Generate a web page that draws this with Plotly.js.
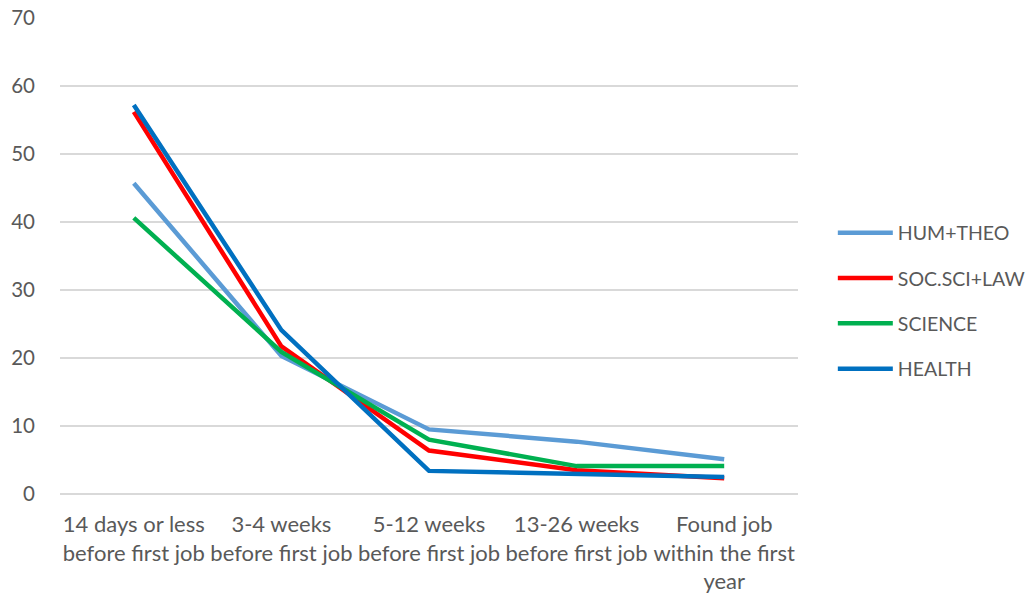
<!DOCTYPE html>
<html>
<head>
<meta charset="utf-8">
<script src="https://cdn.plot.ly/plotly-3.0.1.min.js"></script>
<style>html,body{margin:0;padding:0;background:#fff;}#chart{width:1032px;height:596px;}</style>
</head>
<body>
<div id="chart"></div>
<script>
const categories = [
  "14 days or less<br>before first job",
  "3-4 weeks<br>before first job",
  "5-12 weeks<br>before first job",
  "13-26 weeks<br>before first job",
  "Found job<br>within the first<br>year"
];
const seriesNames = ["HUM+THEO", "SOC.SCI+LAW", "SCIENCE", "HEALTH"];
const humTheo = [45.7, 20.3, 9.5, 7.7, 5.1];
const socSciLaw = [56.2, 21.7, 6.4, 3.5, 2.3];
const science = [40.6, 20.9, 8.0, 4.1, 4.1];
const health = [57.2, 24.1, 3.4, 3.0, 2.5];
const colors = ["#5B9BD5", "#FF0000", "#00B050", "#0070C0"];
const yTicks = [0, 10, 20, 30, 40, 50, 60, 70];

const allValues = [humTheo, socSciLaw, science, health];
const traces = allValues.map((vals, i) => ({
  type: "scatter",
  mode: "lines",
  x: categories,
  y: vals,
  name: seriesNames[i],
  legendgroup: "g" + i,
  line: {color: colors[i], width: 4.5}
}));

const fam = "Lato, 'Open Sans', sans-serif";
const layout = {
  width: 1032,
  height: 596,
  margin: {l: 60, r: 234, t: 18, b: 102},
  paper_bgcolor: "#fff",
  plot_bgcolor: "#fff",
  font: {family: fam, size: 18, color: "#595959"},
  showlegend: true,
  legend: {
    xref: "container",
    x: 0.807, xanchor: "left",
    yref: "container",
    y: 0.495, yanchor: "middle",
    traceorder: "grouped",
    tracegroupgap: 17,
    itemwidth: 55,
    font: {family: fam, size: 19.5, color: "#595959"},
    bgcolor: "rgba(0,0,0,0)"
  },
  xaxis: {
    type: "category",
    range: [-0.5, 4.5],
    showgrid: false,
    showline: false,
    zeroline: false,
    ticks: "",
    ticklabelstandoff: 15,
    tickfont: {family: fam, size: 22, color: "#595959"},
    fixedrange: true
  },
  yaxis: {
    range: [0, 70],
    tickvals: yTicks,
    ticktext: yTicks.map(String),
    showgrid: true,
    gridcolor: "#D9D9D9",
    gridwidth: 1.3,
    zeroline: true,
    zerolinecolor: "#D9D9D9",
    zerolinewidth: 1.3,
    showline: false,
    ticks: "",
    ticklabelstandoff: 24,
    tickfont: {family: fam, size: 20.5, color: "#595959"},
    fixedrange: true
  }
};

Plotly.newPlot("chart", traces, layout, {displayModeBar: false, staticPlot: true});
</script>
</body>
</html>
